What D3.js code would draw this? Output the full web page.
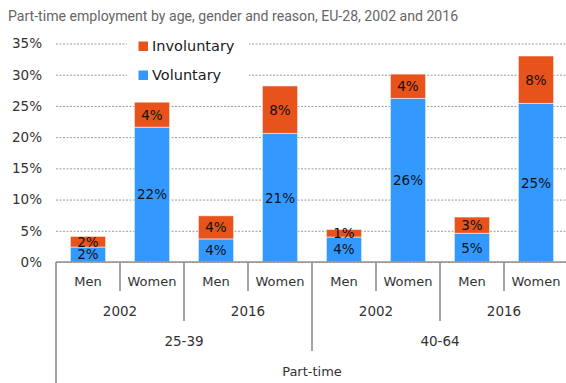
<!DOCTYPE html>
<html>
<head>
<meta charset="utf-8">
<script src="https://cdn.jsdelivr.net/npm/d3@7/dist/d3.min.js"></script>
<style>
  html, body { margin: 0; padding: 0; background: #fff; }
  svg { display: block; }
</style>
</head>
<body>
<svg id="chart" width="566" height="383"></svg>
<script>
// Part-time employment shares (%) by age group, year and gender
const ages = ["25-39", "40-64"];
const years = ["2002", "2016"];
const genders = ["Men", "Women"];
const voluntary   = [2.4, 21.6, 3.7, 20.6, 4.0, 26.2, 4.6, 25.4];
const involuntary = [1.7, 4.0, 3.7, 7.6, 1.2, 3.9, 2.6, 7.6];
const yTicks = [0, 5, 10, 15, 20, 25, 30, 35];
const seriesNames = ["Involuntary", "Voluntary"];
const colors = { Voluntary: "#3399ff", Involuntary: "#e8521b" };

const W = 566, H = 383;
const plotLeft = 56, step = 64, nCats = 8;
const plotBase = 262, plotTop = 43.5;

// one row per bar: age / year / gender
const rows = [];
ages.forEach(a => years.forEach(yr => genders.forEach(g => rows.push({ age: a, year: yr, gender: g }))));
rows.forEach((r, i) => { r.key = i; r.Voluntary = voluntary[i]; r.Involuntary = involuntary[i]; });

const svg = d3.select("#chart");
const fontBody = "'DejaVu Sans', sans-serif";

const x = d3.scaleBand().domain(rows.map(r => r.key))
  .range([plotLeft, plotLeft + step * nCats]).paddingInner(0.45).paddingOuter(0.225);
const y = d3.scaleLinear().domain([0, 35]).range([plotBase, plotTop]);

// title
svg.append("text").attr("x", 8).attr("y", 21)
  .attr("font-family", "Roboto, sans-serif").attr("font-size", 14.1)
  .attr("fill", "#666").text("Part-time employment by age, gender and reason, EU-28, 2002 and 2016");

// y axis with dashed gridlines
const yAxis = svg.append("g").attr("transform", `translate(${plotLeft},0)`)
  .call(d3.axisLeft(y).tickValues(yTicks).tickFormat(d => d + "%")
    .tickSize(-(W - plotLeft)).tickPadding(14));
yAxis.select(".domain").remove();
yAxis.selectAll(".tick line").attr("stroke", "#9a9a9a").attr("stroke-dasharray", "2,1.5");
yAxis.selectAll(".tick text").attr("font-family", fontBody).attr("font-size", 13.5).attr("fill", "#333");

// legend (white box over the gridlines)
const lg = svg.append("g");
lg.append("rect").attr("x", 127).attr("y", 33).attr("width", 122).attr("height", 55).attr("fill", "#fff");
seriesNames.forEach((s, i) => {
  const gy = 46 + i * 29;
  lg.append("rect").attr("x", 138.5).attr("y", gy - 4.5).attr("width", 9.5).attr("height", 9.5).attr("fill", colors[s]);
  lg.append("text").attr("x", 152).attr("y", gy).attr("dy", "0.36em")
    .attr("font-family", fontBody).attr("font-size", 14.5).attr("fill", "#1a1a1a").text(s);
});

// stacked bars
const stack = d3.stack().keys(["Voluntary", "Involuntary"]);
const layers = stack(rows);
const bars = svg.append("g");
layers.forEach(layer => {
  const key = layer.key;
  bars.selectAll(null).data(layer).enter().append("rect")
    .attr("x", d => x(d.data.key))
    .attr("width", x.bandwidth())
    .attr("y", d => y(d[1]))
    .attr("height", d => y(d[0]) - y(d[1]))
    .attr("fill", colors[key])
    .attr("stroke", "#fff").attr("stroke-opacity", 0.55).attr("stroke-width", 1);
  bars.selectAll(null).data(layer).enter().append("text")
    .attr("x", d => x(d.data.key) + x.bandwidth() / 2)
    .attr("y", d => (y(d[0]) + y(d[1])) / 2)
    .attr("dy", "0.36em").attr("text-anchor", "middle")
    .attr("font-family", fontBody).attr("font-size", 13.5).attr("fill", "#111")
    .text(d => d3.format(".0f")(d.data[key]) + "%");
});

// category axis: baseline and hierarchical separators
const axisG = svg.append("g").attr("stroke", "#8f8f8f").attr("stroke-width", 1.6);
axisG.append("line").attr("x1", plotLeft).attr("x2", W).attr("y1", plotBase).attr("y2", plotBase);
const bx = i => plotLeft + step * i;
for (let i = 0; i <= nCats; i++) {
  let y2;
  if (i === 0) y2 = H;
  else if (i === 4) y2 = 351;
  else if (i % 2 === 0) y2 = 321;
  else y2 = 291;
  axisG.append("line").attr("x1", bx(i)).attr("x2", bx(i)).attr("y1", plotBase).attr("y2", y2);
}

const lab = svg.append("g").attr("font-family", fontBody).attr("fill", "#333").attr("text-anchor", "middle");
rows.forEach((r, i) => {
  lab.append("text").attr("x", bx(i) + step / 2).attr("y", 281).attr("dy", "0.36em")
    .attr("font-size", 13).text(r.gender);
});
ages.forEach((a, ai) => {
  years.forEach((yr, yi) => {
    const k = ai * 2 + yi;
    lab.append("text").attr("x", bx(k * 2) + step).attr("y", 311).attr("dy", "0.36em")
      .attr("font-size", 13.5).text(yr);
  });
  lab.append("text").attr("x", bx(ai * 4) + step * 2).attr("y", 341).attr("dy", "0.36em")
    .attr("font-size", 13.5).text(a);
});
lab.append("text").attr("x", plotLeft + step * 4).attr("y", 371).attr("dy", "0.36em")
  .attr("font-size", 13).text("Part-time");
</script>
</body>
</html>
